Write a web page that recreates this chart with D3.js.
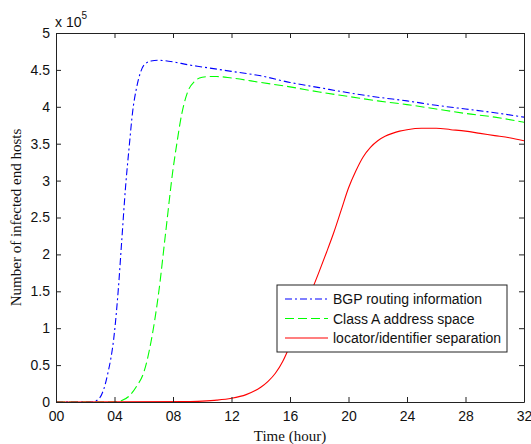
<!DOCTYPE html>
<html>
<head>
<meta charset="utf-8">
<script src="https://cdn.jsdelivr.net/npm/d3@7"></script>
<style>
  html, body { margin: 0; padding: 0; background: #fff; }
  svg { display: block; }
</style>
</head>
<body>
<script>
// ---- data (values in units of 10^5 hosts) ----
const seriesNames = ["BGP routing information", "Class A address space", "locator/identifier separation"];
const bgpT = [0, 2.5, 3, 3.5, 4, 4.25, 4.5, 4.75, 5, 5.25, 5.5, 5.75, 6, 6.5, 7, 8, 9, 10, 12, 14, 16, 18, 20, 22, 24, 26, 28, 30, 32];
const bgpV = [0, 0, 0.06, 0.35, 0.95, 1.5, 2.2, 2.9, 3.45, 3.95, 4.25, 4.45, 4.56, 4.62, 4.63, 4.61, 4.57, 4.54, 4.48, 4.42, 4.33, 4.26, 4.19, 4.13, 4.08, 4.02, 3.97, 3.92, 3.86];
const classAT = [0, 4, 4.5, 5, 5.5, 6, 6.5, 7, 7.5, 8, 8.3, 8.5, 9, 9.5, 10, 10.5, 11, 12, 14, 16, 18, 20, 22, 24, 26, 28, 30, 32];
const classAV = [0, 0, 0.02, 0.08, 0.21, 0.4, 0.82, 1.45, 2.3, 3.15, 3.55, 3.8, 4.2, 4.35, 4.40, 4.41, 4.41, 4.39, 4.33, 4.27, 4.20, 4.14, 4.08, 4.03, 3.97, 3.91, 3.86, 3.79];
const locT = [0, 9, 10, 11, 12, 13, 14, 14.5, 15, 15.5, 16, 16.5, 17, 17.5, 18, 18.5, 19, 19.5, 20, 20.5, 21, 21.5, 22, 22.5, 23, 23.5, 24, 25, 26, 27, 28, 29, 30, 31, 32];
const locV = [0, 0.005, 0.012, 0.025, 0.05, 0.1, 0.2, 0.28, 0.39, 0.55, 0.77, 1.03, 1.29, 1.52, 1.77, 2.03, 2.3, 2.6, 2.9, 3.13, 3.32, 3.45, 3.54, 3.6, 3.64, 3.67, 3.69, 3.71, 3.71, 3.69, 3.67, 3.64, 3.61, 3.58, 3.54];
const xTickValues = [0, 4, 8, 12, 16, 20, 24, 28, 32];
const xTickLabels = ["00", "04", "08", "12", "16", "20", "24", "28", "32"];
const yTickValues = [0, 0.5, 1, 1.5, 2, 2.5, 3, 3.5, 4, 4.5, 5];
const yTickLabels = ["0", "0.5", "1", "1.5", "2", "2.5", "3", "3.5", "4", "4.5", "5"];

const W = 531, H = 444;
const m = { left: 56, right: 7, top: 33, bottom: 42 };
const x0 = m.left, x1 = W - m.right, y0 = H - m.bottom, y1 = m.top;

const svg = d3.select("body").append("svg").attr("width", W).attr("height", H);

const x = d3.scaleLinear().domain([0, 32]).range([x0, x1]);
const y = d3.scaleLinear().domain([0, 5]).range([y0, y1]);

const sansFont = "Arial, 'Liberation Sans', sans-serif";
const serifFont = "'Times New Roman', 'Liberation Serif', serif";

// curves (clip to plot)
svg.append("clipPath").attr("id", "clip").append("rect")
  .attr("x", x0).attr("y", y1).attr("width", x1 - x0).attr("height", y0 - y1);

const line = d3.line().x(d => x(d[0])).y(d => y(d[1])).curve(d3.curveMonotoneX);
const series = [
  { t: bgpT, v: bgpV, color: "#0000ff", dash: "7,3,2,3" },
  { t: classAT, v: classAV, color: "#00ff00", dash: "9,4" },
  { t: locT, v: locV, color: "#ff0000", dash: null }
];
const g = svg.append("g").attr("clip-path", "url(#clip)");
series.forEach(s => {
  g.append("path")
    .datum(s.t.map((t, i) => [t, s.v[i]]))
    .attr("d", line)
    .attr("fill", "none")
    .attr("stroke", s.color)
    .attr("stroke-width", 1.1)
    .attr("stroke-dasharray", s.dash);
});

// axes (MATLAB-style box with inward ticks)
const tickLen = 5;
const axB = svg.append("g").attr("transform", `translate(0,${y0})`)
  .call(d3.axisBottom(x).tickValues(xTickValues).tickFormat((d, i) => xTickLabels[i]).tickSizeInner(-tickLen).tickSizeOuter(0).tickPadding(9));
const axT = svg.append("g").attr("transform", `translate(0,${y1})`)
  .call(d3.axisTop(x).tickValues(xTickValues).tickFormat("").tickSizeInner(-tickLen).tickSizeOuter(0));
const axL = svg.append("g").attr("transform", `translate(${x0},0)`)
  .call(d3.axisLeft(y).tickValues(yTickValues).tickFormat((d, i) => yTickLabels[i]).tickSizeInner(-tickLen).tickSizeOuter(0).tickPadding(6));
const axR = svg.append("g").attr("transform", `translate(${x1},0)`)
  .call(d3.axisRight(y).tickValues(yTickValues).tickFormat("").tickSizeInner(-tickLen).tickSizeOuter(0));

[axB, axT, axL, axR].forEach(a => {
  a.selectAll("path.domain").attr("stroke", "#222").attr("stroke-width", 1);
  a.selectAll(".tick line").attr("stroke", "#222");
  a.selectAll("text").attr("font-family", sansFont).attr("font-size", 14).attr("fill", "#111");
});

// exponent label
const ex = svg.append("text").attr("x", 55).attr("y", 27)
  .attr("font-family", sansFont).attr("font-size", 14).attr("fill", "#111");
ex.append("tspan").text("x 10");
ex.append("tspan").attr("dy", -8).attr("font-size", 10).text("5");

// axis titles
svg.append("text").attr("x", (x0 + x1) / 2).attr("y", 441)
  .attr("text-anchor", "middle").attr("font-family", serifFont).attr("font-size", 15).attr("fill", "#111")
  .text("Time (hour)");
svg.append("text").attr("transform", `translate(21,${(y0 + y1) / 2}) rotate(-90)`)
  .attr("text-anchor", "middle").attr("font-family", serifFont).attr("font-size", 15).attr("fill", "#111")
  .text("Number of infected end hosts");

// legend
const lg = svg.append("g");
const lgX = 277, lgY = 285, lgW = 230, lgH = 67;
lg.append("rect").attr("x", lgX).attr("y", lgY).attr("width", lgW).attr("height", lgH)
  .attr("fill", "#fff").attr("stroke", "#222").attr("stroke-width", 1);
series.forEach((s, i) => {
  const yy = lgY + 14 + i * 19.5;
  lg.append("line").attr("x1", lgX + 8).attr("x2", lgX + 51).attr("y1", yy).attr("y2", yy)
    .attr("stroke", s.color).attr("stroke-width", 1.1).attr("stroke-dasharray", s.dash);
  lg.append("text").attr("x", lgX + 56).attr("y", yy + 5)
    .attr("font-family", sansFont).attr("font-size", 14).attr("fill", "#111")
    .text(seriesNames[i]);
});
</script>
</body>
</html>
